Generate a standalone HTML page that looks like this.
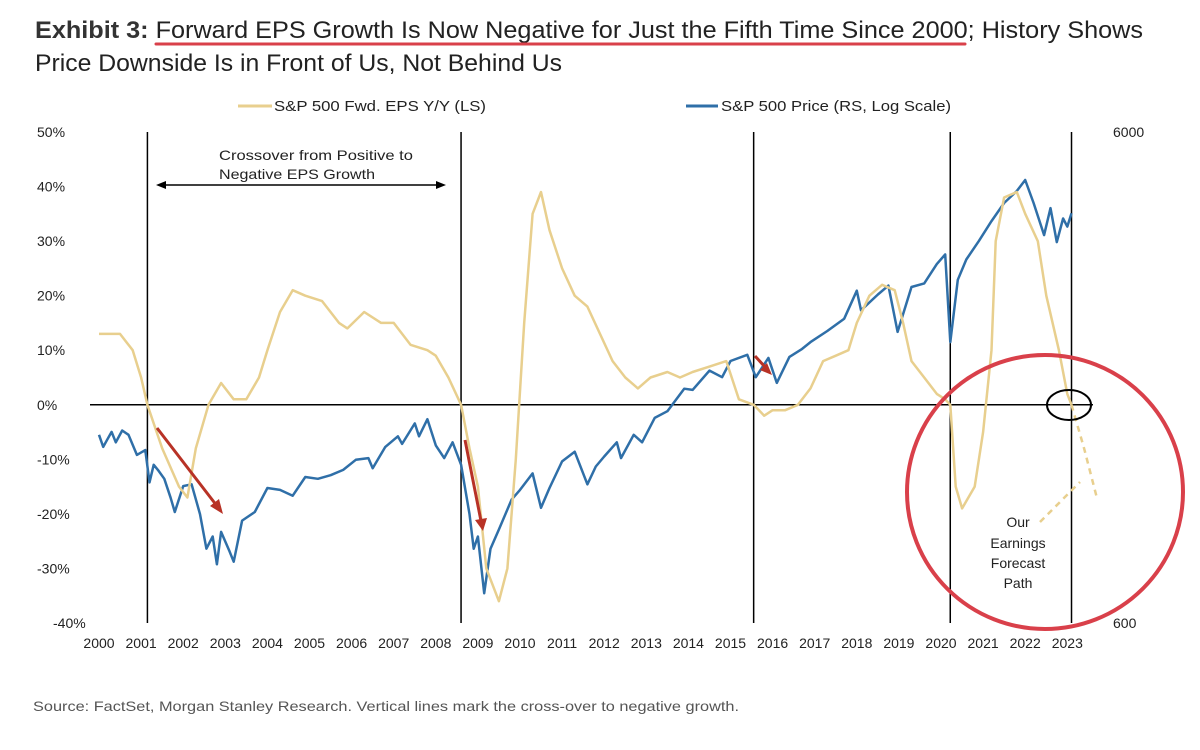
<!DOCTYPE html>
<html><head><meta charset="utf-8"><style>
html,body{margin:0;padding:0;background:#fff;}
svg{display:block;font-family:"Liberation Sans",sans-serif;}
</style></head><body>
<svg id="chart" width="1200" height="750" viewBox="0 0 1200 750" xmlns="http://www.w3.org/2000/svg">
<g>
<text x="35" y="38" font-size="24" fill="#222" textLength="1108" lengthAdjust="spacingAndGlyphs"><tspan font-weight="bold" fill="#333">Exhibit 3:</tspan>  Forward EPS Growth Is Now Negative for Just the Fifth Time Since 2000; History Shows</text>
<text x="35" y="71" font-size="24" fill="#222" textLength="527" lengthAdjust="spacingAndGlyphs">Price Downside Is in Front of Us, Not Behind Us</text>
<line x1="156" y1="44" x2="965" y2="44" stroke="#d9404a" stroke-width="3" stroke-linecap="round"/>
</g>
<g>
<g><line x1="238" y1="106" x2="272" y2="106" stroke="#e8cf8e" stroke-width="3"/><text x="274" y="111" font-size="15" fill="#222" textLength="212" lengthAdjust="spacingAndGlyphs">S&amp;P 500 Fwd. EPS Y/Y (LS)</text></g>
<g><line x1="686" y1="106" x2="718" y2="106" stroke="#2f6fa8" stroke-width="3"/><text x="721" y="111" font-size="15" fill="#222" textLength="230" lengthAdjust="spacingAndGlyphs">S&amp;P 500 Price (RS, Log Scale)</text></g>
</g>
<g id="axes"></g>
<g id="marks"></g>
<g>
<text x="219" y="160" font-size="14" fill="#222" textLength="194" lengthAdjust="spacingAndGlyphs">Crossover from Positive to</text>
<text x="219" y="179" font-size="14" fill="#222" textLength="156" lengthAdjust="spacingAndGlyphs">Negative EPS Growth</text>
<g>
<line x1="162" y1="185" x2="440" y2="185" stroke="#000" stroke-width="1.5"/>
<polygon points="156,185 166,181 166,189" fill="#000"/>
<polygon points="446,185 436,181 436,189" fill="#000"/>
</g>
<g stroke="#b83226" stroke-width="3" fill="#b83226">
<line x1="157" y1="428" x2="217" y2="506"/><polygon points="223,514 210,506 219,499" stroke="none"/>
<line x1="465" y1="440" x2="481" y2="521"/><polygon points="483,531 475,520 487,518" stroke="none"/>
<line x1="755" y1="356" x2="766" y2="368"/><polygon points="772,375 760,370 767,363" stroke="none"/>
</g>
<ellipse cx="1045" cy="492" rx="138" ry="137" fill="none" stroke="#d9404a" stroke-width="4"/>
<ellipse cx="1069" cy="405" rx="22" ry="15" fill="none" stroke="#000" stroke-width="2"/>
<line x1="1040" y1="522" x2="1080" y2="482" stroke="#e8cf8e" stroke-width="2.5" stroke-dasharray="6,5"/>
<g font-size="14" fill="#222" text-anchor="middle">
<text x="1018" y="527">Our</text><text x="1018" y="548">Earnings</text><text x="1018" y="568">Forecast</text><text x="1018" y="588">Path</text>
</g>
</g>
<text x="33" y="711" font-size="14" fill="#555" textLength="706" lengthAdjust="spacingAndGlyphs">Source: FactSet, Morgan Stanley Research. Vertical lines mark the cross-over to negative growth.</text>
</svg>
<script>
const leftTicks=[50,40,30,20,10,0,-10,-20,-30,-40];
const leftTickLabels=["50%","40%","30%","20%","10%","0%","-10%","-20%","-30%","-40%"];
const rightTicks=[6000,600];
const rightTickLabels=["6000","600"];
const yearLabels=["2000","2001","2002","2003","2004","2005","2006","2007","2008","2009","2010","2011","2012","2013","2014","2015","2016","2017","2018","2019","2020","2021","2022","2023"];
const crossoverYears=[2001.15,2008.6,2015.55,2020.22,2023.1];
const epsDates=[2000,2000.5,2000.8,2001,2001.15,2001.5,2001.9,2002.1,2002.3,2002.6,2002.9,2003.2,2003.5,2003.8,2004,2004.3,2004.6,2004.9,2005.3,2005.7,2005.9,2006.3,2006.7,2007,2007.4,2007.8,2008,2008.3,2008.6,2008.8,2009,2009.2,2009.5,2009.7,2009.9,2010.1,2010.3,2010.5,2010.7,2011,2011.3,2011.6,2011.9,2012.2,2012.5,2012.8,2013.1,2013.5,2013.8,2014.1,2014.5,2014.9,2015.2,2015.55,2015.8,2016,2016.3,2016.6,2016.9,2017.2,2017.5,2017.8,2018,2018.3,2018.6,2018.9,2019.1,2019.3,2019.6,2019.9,2020.1,2020.22,2020.35,2020.5,2020.8,2021,2021.2,2021.3,2021.5,2021.8,2022,2022.3,2022.5,2022.8,2023,2023.1];
const epsValues=[13,13,10,5,0,-8,-15,-17,-8,0,4,1,1,5,10,17,21,20,19,15,14,17,15,15,11,10,9,5,0,-8,-15,-30,-36,-30,-10,15,35,39,32,25,20,18,13,8,5,3,5,6,5,6,7,8,1,0,-2,-1,-1,0,3,8,9,10,15,20,22,21,15,8,5,2,1,0,-15,-19,-15,-5,10,30,38,39,35,30,20,10,2,0];
const forecastDates=[2023.1,2023.4,2023.7];
const forecastValues=[0,-8,-17];
const priceDates=[2000,2000.1,2000.2,2000.3,2000.4,2000.55,2000.7,2000.9,2001.1,2001.2,2001.3,2001.4,2001.55,2001.7,2001.8,2002,2002.2,2002.4,2002.55,2002.7,2002.8,2002.9,2003.1,2003.2,2003.4,2003.7,2004,2004.3,2004.6,2004.9,2005.2,2005.5,2005.8,2006.1,2006.4,2006.5,2006.8,2007.1,2007.2,2007.5,2007.6,2007.8,2008,2008.2,2008.4,2008.6,2008.8,2008.9,2009,2009.15,2009.3,2009.5,2009.8,2010,2010.3,2010.5,2010.7,2011,2011.3,2011.6,2011.8,2012,2012.3,2012.4,2012.7,2012.9,2013.2,2013.5,2013.9,2014.1,2014.5,2014.8,2015,2015.4,2015.6,2015.9,2016.1,2016.4,2016.7,2016.9,2017.3,2017.7,2018,2018.1,2018.5,2018.75,2018.97,2019.3,2019.6,2019.9,2020.1,2020.22,2020.4,2020.6,2020.9,2021.2,2021.5,2021.8,2022,2022.2,2022.45,2022.6,2022.75,2022.9,2023,2023.1];
const priceValues=[1450,1370,1420,1470,1400,1480,1450,1320,1350,1160,1260,1230,1180,1080,1010,1140,1150,1000,850,900,790,920,840,800,970,1010,1130,1120,1090,1190,1180,1200,1230,1290,1300,1240,1370,1440,1390,1530,1440,1560,1380,1300,1400,1260,1000,850,900,690,850,930,1070,1120,1210,1030,1130,1280,1340,1150,1250,1310,1400,1300,1450,1400,1570,1620,1800,1790,1960,1900,2050,2110,1900,2080,1850,2090,2170,2240,2360,2500,2850,2600,2800,2920,2350,2900,2950,3230,3380,2240,3000,3300,3600,3950,4300,4550,4790,4300,3700,4200,3580,4000,3850,4100];

const NS="http://www.w3.org/2000/svg";
const X0=99, XS=42.1, YT=132, YB=623;
function xScale(yr){return X0+XS*(yr-2000);}
function yLeft(p){return YT+(50-p)*(YB-YT)/90;}
function yRight(v){return YT+Math.log10(6000/v)*(YB-YT);}
function mk(tag,attrs,parent){const e=document.createElementNS(NS,tag);for(const k in attrs)e.setAttribute(k,attrs[k]);parent.appendChild(e);return e;}
const axes=document.getElementById('axes'), marks=document.getElementById('marks');
leftTicks.forEach((t,i)=>{
  const el=mk('text',{x:i===leftTicks.length-1?53:37,y:yLeft(t)+5,'font-size':14,fill:'#222'},axes);
  
  
  el.textContent=leftTickLabels[i];
});
rightTicks.forEach((t,i)=>{
  const el=mk('text',{x:1113,y:yRight(t)+5,'font-size':14,fill:'#222'},axes);
  
  
  el.textContent=rightTickLabels[i];
});
yearLabels.forEach((l,i)=>{
  const el=mk('text',{x:xScale(2000+i),y:648,'font-size':14,fill:'#222','text-anchor':'middle'},axes);
  
  
  el.textContent=l;
});
const zl=mk('line',{x1:90,x2:1093,y1:yLeft(0),y2:yLeft(0),stroke:'#000','stroke-width':1.5},axes);


crossoverYears.forEach(y=>{
  const el=mk('line',{x1:xScale(y),x2:xScale(y),y1:YT,y2:YB,stroke:'#000','stroke-width':1.5},axes);
  
  
});
function pathD(ds,vs,f){return ds.map((d,i)=>(i?'L':'M')+xScale(d).toFixed(1)+','+f(vs[i]).toFixed(1)).join('');}
const pp=mk('path',{d:pathD(priceDates,priceValues,yRight),fill:'none',stroke:'#2f6fa8','stroke-width':2.5,'stroke-linejoin':'round'},marks);


const ep=mk('path',{d:pathD(epsDates,epsValues,yLeft),fill:'none',stroke:'#e8cf8e','stroke-width':2.5,'stroke-linejoin':'round'},marks);


const fp=mk('path',{d:pathD(forecastDates,forecastValues,yLeft),fill:'none',stroke:'#e8cf8e','stroke-width':2.5,'stroke-dasharray':'6,5'},marks);


</script>
</body></html>
